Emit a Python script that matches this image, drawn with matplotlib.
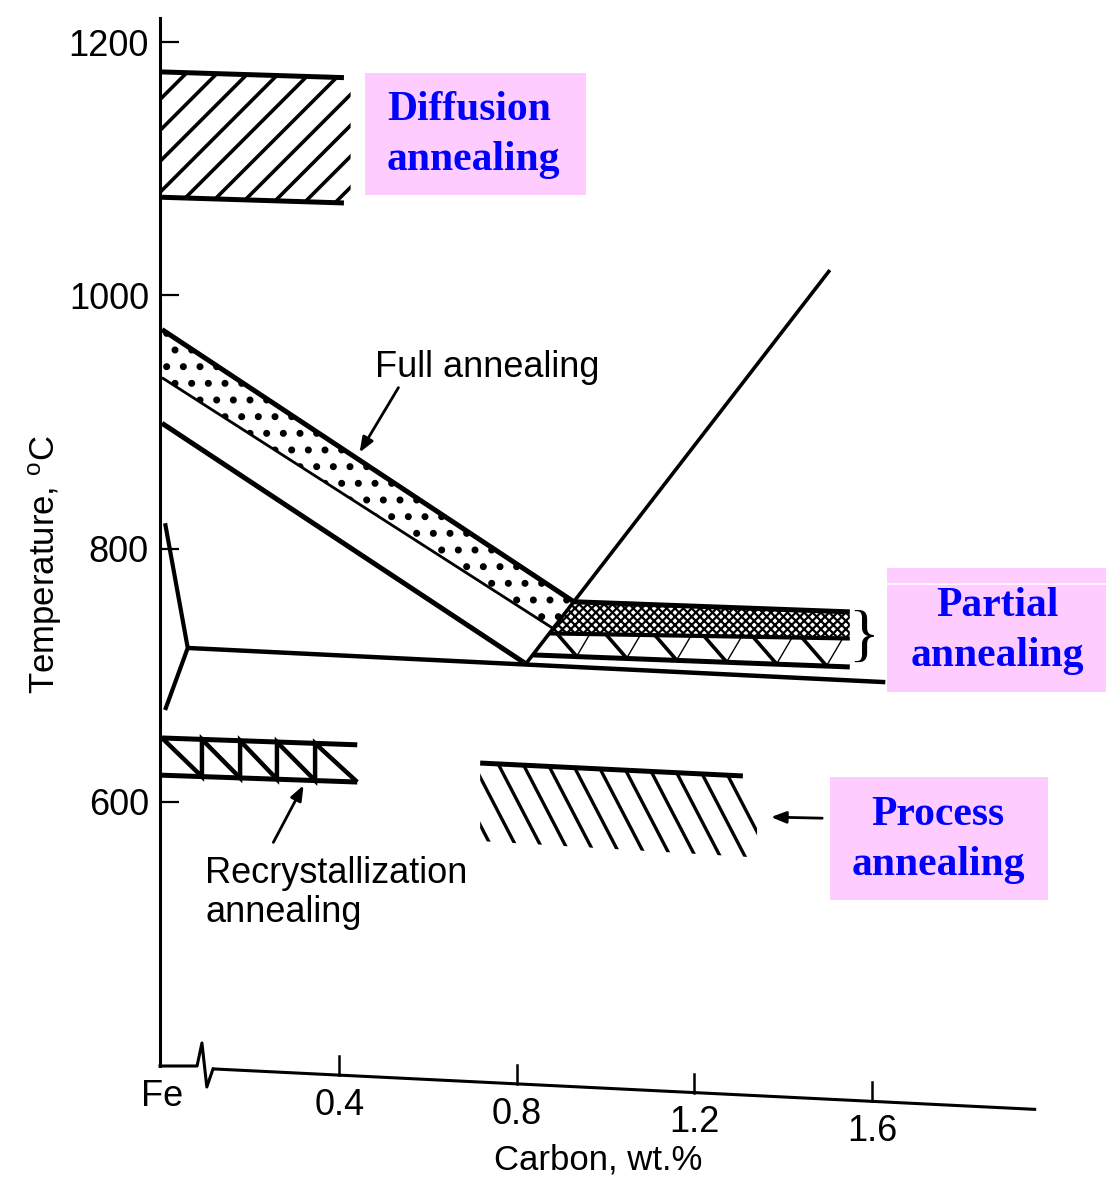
import numpy as np
import matplotlib
matplotlib.use("Agg")
import matplotlib.pyplot as plt
from matplotlib.patches import Polygon, Rectangle

W, H, DPI = 1118, 1184, 100

# ---- chart data (carbon wt.%, temperature degC) ----
y_ticks = [600, 800, 1000, 1200]
x_tick_c = [0.0, 0.4, 0.8, 1.2, 1.6]
x_tick_labels = ["Fe", "0.4", "0.8", "1.2", "1.6"]

# slanted carbon axis of the scan (carbon, temperature at the axis line)
xaxis_c = [0.115, 1.97]
xaxis_t = [389.0, 357.0]

# phase boundaries
a3_c, a3_t = [0.0, 0.82], [899, 709]
acm_c, acm_t = [0.82, 1.505], [709, 1020]
a1_c, a1_t = [0.058, 1.63], [721.5, 694.5]
fe_c, fe_t = [0.007, 0.058, 0.007], [820, 721.5, 672.5]

# full annealing band
full_top_c, full_top_t = [0.0, 0.928], [973, 758]
full_low_c, full_low_t = [0.0, 0.881], [935, 737]

# partial annealing band
part_top_c, part_top_t = [0.928, 1.55], [758, 750]
part_mid_c, part_mid_t = [0.874, 1.55], [733, 729]
part_low_c, part_low_t = [0.836, 1.55], [716, 706.5]

# diffusion annealing
diff_c = [0.0, 0.41]
diff_top = [1176.5, 1172]
diff_bot = [1077.5, 1073]

# recrystallization annealing
rec_c = [0.0, 0.44]
rec_top = [650.4, 645]
rec_bot = [621, 615.6]
rec_saw_c = [0.0, 0.09, 0.176, 0.259, 0.345, 0.44]

# process annealing
proc_c = [0.717, 1.309]
proc_top = [630.6, 620.4]
proc_right_c = 1.341
proc_bot = [569, 556]


def px(x, y):
    return x / W, 1 - y / H


fig = plt.figure(figsize=(W / DPI, H / DPI), dpi=DPI)
plt.rcParams["font.family"] = ["Liberation Sans", "DejaVu Sans"]
plt.rcParams["mathtext.default"] = "regular"
plt.rcParams["hatch.linewidth"] = 1.6

ax = fig.add_axes([160 / W, 1 - 1066 / H, 880 / W, (1066 - 18) / H])
ax.set_xlim(-0.0045, 1.9786)
ax.set_ylim(391.3, 1219.1)
for s in ["top", "right", "bottom"]:
    ax.spines[s].set_visible(False)
ax.spines["left"].set_linewidth(2.2)
ax.set_xticks([])
ax.set_yticks(y_ticks)
ax.set_yticklabels([str(t) for t in y_ticks])
ax.tick_params(axis="y", direction="in", length=14, width=1.6, pad=8, labelsize=26)
ax.patch.set_alpha(0)

K = "black"


def line(c, t, lw):
    ax.plot(c, t, color=K, lw=lw, solid_capstyle="butt", solid_joinstyle="miter")


def hatch_lines(poly, base_c, base_t, step_px, dir_px, lw):
    clip = Polygon(poly, closed=True, facecolor="none", edgecolor="none")
    ax.add_patch(clip)
    b0, b1 = ax.transData.transform([[base_c[0], base_t[0]], [base_c[1], base_t[1]]])
    length = np.hypot(*(b1 - b0))
    d = np.array(dir_px, float)
    d /= np.hypot(*d)
    inv = ax.transData.inverted()
    for s in np.arange(0, length + 1e-9, step_px):
        p = b0 + (b1 - b0) * s / length
        seg = inv.transform([p - d * 400, p + d * 400])
        ln, = ax.plot(seg[:, 0], seg[:, 1], color=K, lw=lw, solid_capstyle="butt")
        ln.set_clip_path(clip)


# diffusion annealing
line(diff_c, diff_top, 3.6)
line(diff_c, diff_bot, 3.6)
hatch_lines([(0, diff_top[0]), (0.425, diff_top[1]), (0.425, diff_bot[1]), (0, diff_bot[0])],
            [-0.012, 0.75], [diff_top[0], diff_top[0] - 0.762 * (diff_top[0] - diff_top[1]) / 0.41],
            30, (1, 1), 2.6)

# full annealing (stippled band)
with plt.rc_context({"hatch.linewidth": 2.6}):
    stip = Polygon([(full_top_c[0], full_top_t[0]), (full_top_c[1], full_top_t[1]),
                    (full_low_c[1], full_low_t[1]), (full_low_c[0], full_low_t[0])],
                   closed=True, facecolor="none", edgecolor=K, lw=0, hatch=".")
    ax.add_patch(stip)
line(full_top_c, full_top_t, 3.6)
line(full_low_c, full_low_t, 2.0)

# phase lines
line(a3_c, a3_t, 3.6)
line(acm_c, acm_t, 2.6)
line(a1_c, a1_t, 3.2)
line(fe_c, fe_t, 3.0)

# partial annealing
dense = Polygon([(part_top_c[0], part_top_t[0]), (part_top_c[1], part_top_t[1]),
                 (part_mid_c[1], part_mid_t[1]), (part_mid_c[0], part_mid_t[0])],
                closed=True, facecolor="none", edgecolor=K, lw=0, hatch="xxxx")
ax.add_patch(dense)
line(part_top_c, part_top_t, 3.6)
line(part_mid_c, part_mid_t, 3.0)
line(part_low_c, part_low_t, 3.6)
tri_poly = [(part_mid_c[0], part_mid_t[0]), (part_mid_c[1], part_mid_t[1]),
            (part_low_c[1], part_low_t[1]), (part_low_c[0], part_low_t[0])]
hatch_lines(tri_poly, [0.822, 1.6], [716.4, 706.0], 50, (20, -23), 2.6)
hatch_lines(tri_poly, [0.822, 1.6], [716.4, 706.0], 50, (10, 17), 1.0)

# recrystallization annealing
line(rec_c, rec_top, 3.6)
line(rec_c, rec_bot, 3.6)
saw_c, saw_t = [], []
for i, c in enumerate(rec_saw_c):
    top = np.interp(c, rec_c, rec_top)
    bot = np.interp(c, rec_c, rec_bot)
    if i == 0:
        saw_c += [c]; saw_t += [top]
    elif i == len(rec_saw_c) - 1:
        saw_c += [c]; saw_t += [bot]
    else:
        saw_c += [c, c]; saw_t += [bot, top]
line(saw_c, saw_t, 3.2)

# process annealing
line(proc_c, proc_top, 3.6)
proc_poly = [(proc_c[0], proc_top[0]), (proc_c[1], proc_top[1]), (proc_right_c, proc_top[1] - 25),
             (proc_right_c, proc_bot[1]), (proc_c[0], proc_bot[0])]
hatch_lines(proc_poly, [0.619, 1.42], [647.8, 614.0], 26.7, (40, -77), 2.4)

# slanted carbon axis with break
ax_t0 = ax.get_ylim()[0]
brk_c = [0.079, 0.090, 0.101, 0.115]
brk_t = [ax_t0, 409.5, 374.7, xaxis_t[0]]
ax.plot([ax.get_xlim()[0]] + brk_c, [ax_t0] + brk_t, color=K, lw=2.2, clip_on=False)
ax.plot(xaxis_c, xaxis_t, color=K, lw=2.2, clip_on=False, solid_capstyle="butt")
for c, lab in zip(x_tick_c, x_tick_labels):
    if c < xaxis_c[0]:
        t_axis = ax_t0
    else:
        t_axis = np.interp(c, xaxis_c, xaxis_t)
    if c > 0:
        ax.plot([c, c], [t_axis, t_axis + 15], color=K, lw=1.8, clip_on=False)
    ax.text(c, t_axis - 24, lab, ha="center", va="center", fontsize=26, clip_on=False)

# annotations
arrow = dict(arrowstyle="-|>,head_length=0.9,head_width=0.35", color=K, lw=2)
ax.annotate("", xy=(0.442, 874), xytext=(0.536, 929), arrowprops=arrow)
ax.text(0.732, 943, "Full annealing", ha="center", va="center", fontsize=26)
ax.annotate("", xy=(0.322, 615), xytext=(0.248, 566), arrowprops=arrow)
ax.text(0.097, 528, "Recrystallization\nannealing", ha="left", va="center",
        fontsize=26, linespacing=1.12)
ax.annotate("", xy=(1.366, 588), xytext=(1.494, 587), arrowprops=arrow)

# axis titles
fig.text(*px(45, 565), r"Temperature, $^{o}$C", rotation=90, ha="center", va="center", fontsize=25)
fig.text(*px(598, 1160), "Carbon, wt.%", ha="center", va="center", fontsize=25)

# brace for partial annealing
fig.text(*px(864, 640), "}", ha="center", va="center", fontsize=46, family="Liberation Serif")

# pink labels
PINK, BLUE = "#FFCCFF", "#0000FF"
boxes = [
    ((365, 73, 586, 195), (387, 135), "left", "Diffusion\nannealing"),
    ((887, 568, 1106, 692), (997, 631), "center", "Partial\nannealing"),
    ((830, 777, 1048, 900), (938, 840), "center", "Process\nannealing"),
]
for (x0, y0, x1, y1), (tx, ty), ha, txt in boxes:
    fig.add_artist(Rectangle(px(x0, y1), (x1 - x0) / W, (y1 - y0) / H,
                             transform=fig.transFigure, facecolor=PINK, edgecolor="none"))
    fig.text(*px(tx, ty), txt, ha=ha, va="center", multialignment=ha,
             fontsize=30, fontweight="bold", color=BLUE, family="Liberation Serif", linespacing=1.38)
fig.add_artist(plt.Line2D([887 / W, 1106 / W], [1 - 584 / H] * 2, color="white", lw=1.2))

fig.savefig("out.png", dpi=DPI, facecolor="white")
